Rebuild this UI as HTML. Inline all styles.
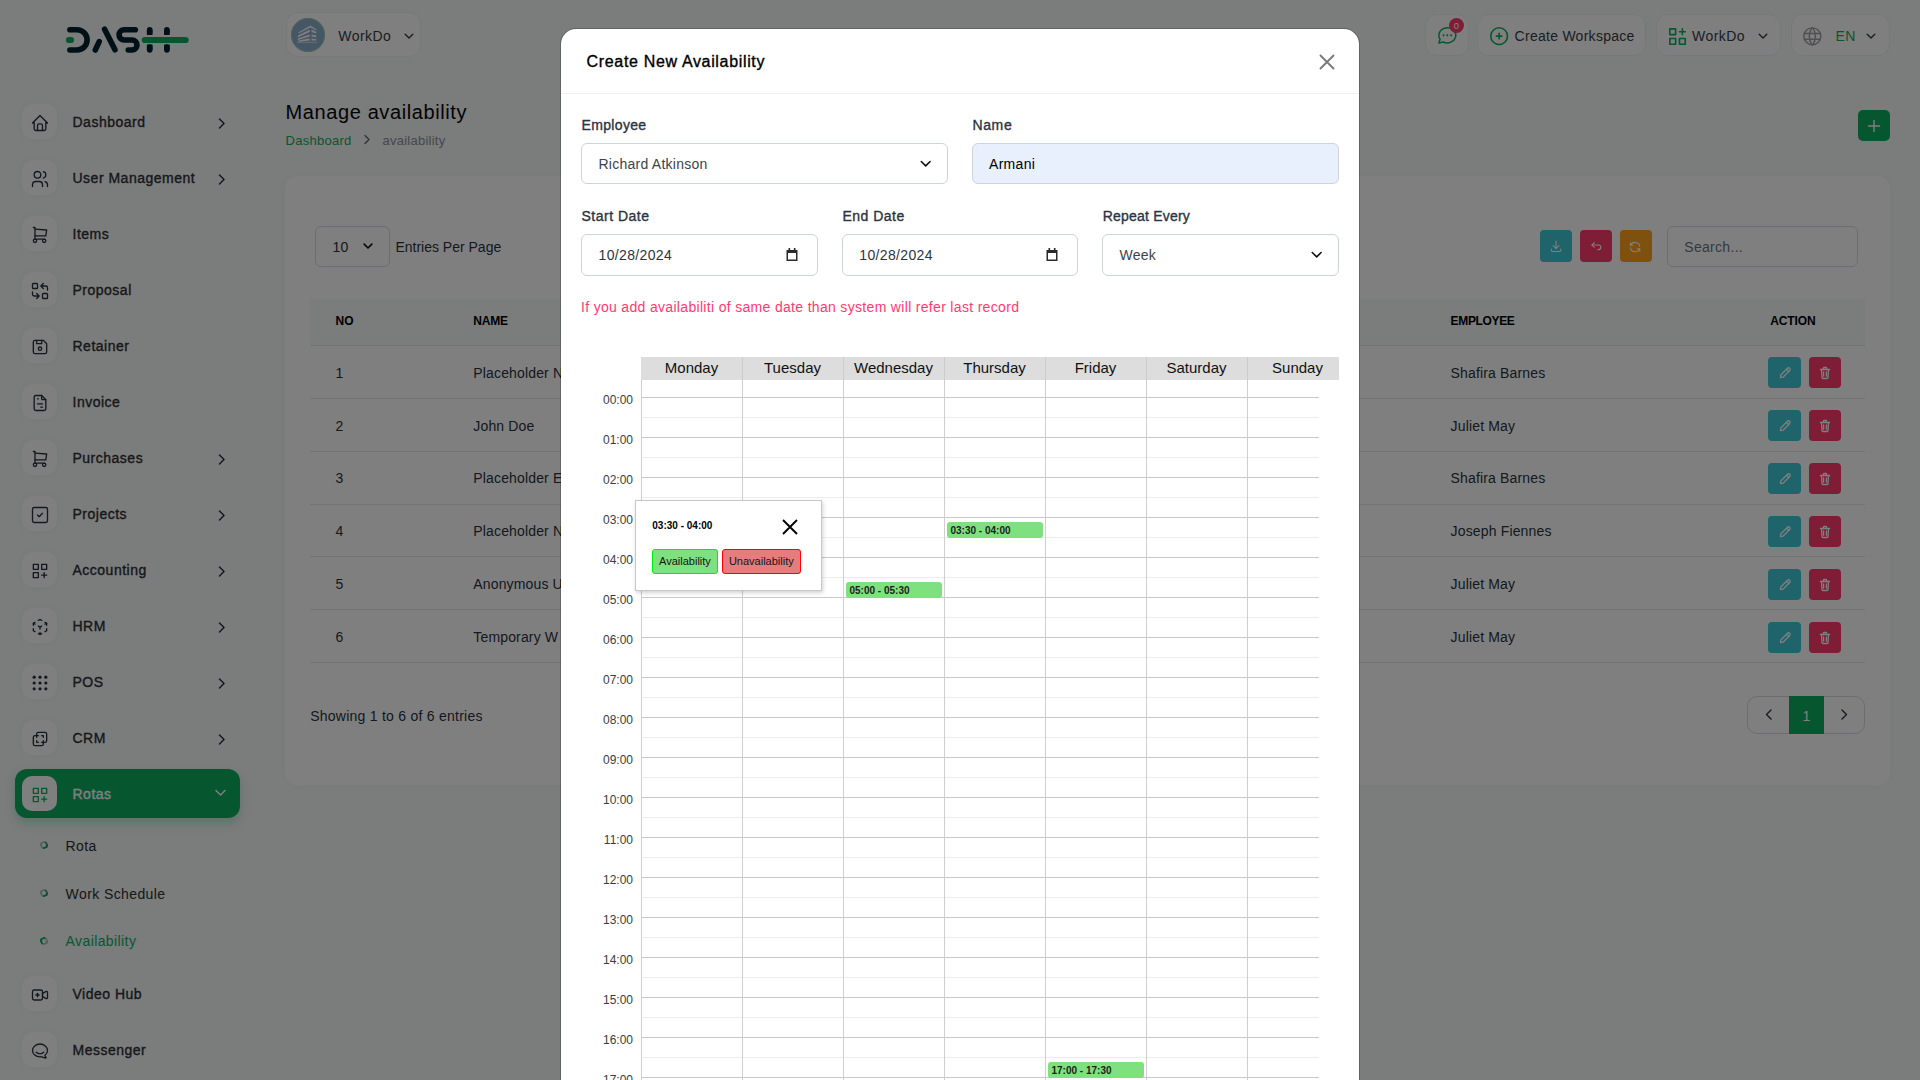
<!DOCTYPE html>
<html><head><meta charset="utf-8"><title>Manage availability</title>
<style>
*{box-sizing:border-box;margin:0;padding:0}
html,body{width:1920px;height:1080px;overflow:hidden}
body{font-family:"Liberation Sans",sans-serif;background:#f6f8f8;position:relative}
.a{position:absolute}
.t{position:absolute;white-space:nowrap;line-height:1}
</style></head><body>
<svg class="a" style="left:60px;top:20px" width="140" height="40" viewBox="0 0 140 40">
  <g stroke="#00202e" stroke-width="5.6" fill="none" stroke-linecap="round">
    <path d="M9.9 9.7 H17 A10.15 10.15 0 0 1 17 30 H9.9"/>
    <path d="M35.3 30 L39.2 21.6"/>
    <path d="M44.6 9.2 L55 29.8"/>
    <path d="M75.3 9.7 H64.2 A5.15 5.15 0 0 0 64.2 20 H72 A5 5 0 0 1 72 30 H68.3"/>
    <path d="M89.7 9.7 V15" stroke-linecap="butt"/><path d="M89.7 9.7 V12"/>
    <path d="M89.7 24.6 V30" stroke-linecap="butt"/><path d="M89.7 27 V30"/>
    <path d="M106.9 9.7 V15" stroke-linecap="butt"/><path d="M106.9 9.7 V12"/>
    <path d="M106.9 24.6 V30" stroke-linecap="butt"/><path d="M106.9 27 V30"/>
  </g>
  <g stroke="#0caf60" stroke-width="6.2" stroke-linecap="round">
    <path d="M9 20 H11"/><path d="M84.8 20 H125.6"/>
  </g>
</svg>
<div class="a" style="left:22px;top:104px;width:35px;height:35px;background:#fff;border-radius:10px;box-shadow:0 0 6px rgba(0,0,0,.04)"></div>
<svg class="a" style="left:29.5px;top:113px;" width="20" height="20" viewBox="0 0 24 24" fill="none" stroke-linecap="round" stroke-linejoin="round"><g stroke="#293240" stroke-width="1.6"><path d="M5 12l-2 0l9 -9l9 9l-2 0"/><path d="M5 12v7a2 2 0 0 0 2 2h10a2 2 0 0 0 2 -2v-7"/><path d="M9 21v-6a2 2 0 0 1 2 -2h2a2 2 0 0 1 2 2v6"/></g></svg>
<div class="t" style="left:72.5px;top:114.65px;font-size:14px;color:#2c3035;font-weight:normal;letter-spacing:0.5px;-webkit-text-stroke:0.35px #2c3035;">Dashboard</div>
<svg class="a" style="left:218px;top:117.5px;" width="8" height="11" viewBox="0 0 8 11" fill="none" stroke-linecap="round" stroke-linejoin="round"><path d="M1.5 1 L6 5.5 L1.5 10" stroke="#293240" stroke-width="1.5"/></svg>
<div class="a" style="left:22px;top:160px;width:35px;height:35px;background:#fff;border-radius:10px;box-shadow:0 0 6px rgba(0,0,0,.04)"></div>
<svg class="a" style="left:29.5px;top:169px;" width="20" height="20" viewBox="0 0 24 24" fill="none" stroke-linecap="round" stroke-linejoin="round"><g stroke="#293240" stroke-width="1.6"><path d="M9 7m-4 0a4 4 0 1 0 8 0a4 4 0 1 0 -8 0"/><path d="M3 21v-2a4 4 0 0 1 4 -4h4a4 4 0 0 1 4 4v2"/><path d="M16 3.13a4 4 0 0 1 0 7.75"/><path d="M21 21v-2a4 4 0 0 0 -3 -3.85"/></g></svg>
<div class="t" style="left:72.5px;top:170.65px;font-size:14px;color:#2c3035;font-weight:normal;letter-spacing:0.5px;-webkit-text-stroke:0.35px #2c3035;">User Management</div>
<svg class="a" style="left:218px;top:173.5px;" width="8" height="11" viewBox="0 0 8 11" fill="none" stroke-linecap="round" stroke-linejoin="round"><path d="M1.5 1 L6 5.5 L1.5 10" stroke="#293240" stroke-width="1.5"/></svg>
<div class="a" style="left:22px;top:216px;width:35px;height:35px;background:#fff;border-radius:10px;box-shadow:0 0 6px rgba(0,0,0,.04)"></div>
<svg class="a" style="left:29.5px;top:225px;" width="20" height="20" viewBox="0 0 24 24" fill="none" stroke-linecap="round" stroke-linejoin="round"><g stroke="#293240" stroke-width="1.6"><path d="M6 19m-2 0a2 2 0 1 0 4 0a2 2 0 1 0 -4 0"/><path d="M17 19m-2 0a2 2 0 1 0 4 0a2 2 0 1 0 -4 0"/><path d="M17 17h-11v-14h-2"/><path d="M6 5l14 1l-1 7h-13"/></g></svg>
<div class="t" style="left:72.5px;top:226.65px;font-size:14px;color:#2c3035;font-weight:normal;letter-spacing:0.5px;-webkit-text-stroke:0.35px #2c3035;">Items</div>
<div class="a" style="left:22px;top:272px;width:35px;height:35px;background:#fff;border-radius:10px;box-shadow:0 0 6px rgba(0,0,0,.04)"></div>
<svg class="a" style="left:29.5px;top:281px;" width="20" height="20" viewBox="0 0 24 24" fill="none" stroke-linecap="round" stroke-linejoin="round"><g stroke="#293240" stroke-width="1.6"><path d="M3 3m0 1a1 1 0 0 1 1 -1h4a1 1 0 0 1 1 1v4a1 1 0 0 1 -1 1h-4a1 1 0 0 1 -1 -1z"/><path d="M15 15m0 1a1 1 0 0 1 1 -1h4a1 1 0 0 1 1 1v4a1 1 0 0 1 -1 1h-4a1 1 0 0 1 -1 -1z"/><path d="M21 11v-3a2 2 0 0 0 -2 -2h-6l3 3m0 -6l-3 3"/><path d="M3 13v3a2 2 0 0 0 2 2h6l-3 -3m0 6l3 -3"/></g></svg>
<div class="t" style="left:72.5px;top:282.65px;font-size:14px;color:#2c3035;font-weight:normal;letter-spacing:0.5px;-webkit-text-stroke:0.35px #2c3035;">Proposal</div>
<div class="a" style="left:22px;top:328px;width:35px;height:35px;background:#fff;border-radius:10px;box-shadow:0 0 6px rgba(0,0,0,.04)"></div>
<svg class="a" style="left:29.5px;top:337px;" width="20" height="20" viewBox="0 0 24 24" fill="none" stroke-linecap="round" stroke-linejoin="round"><g stroke="#293240" stroke-width="1.6"><path d="M6 4h10l4 4v10a2 2 0 0 1 -2 2h-12a2 2 0 0 1 -2 -2v-12a2 2 0 0 1 2 -2"/><path d="M12 14m-2 0a2 2 0 1 0 4 0a2 2 0 1 0 -4 0"/><path d="M14 4l0 4l-6 0l0 -4"/></g></svg>
<div class="t" style="left:72.5px;top:338.65px;font-size:14px;color:#2c3035;font-weight:normal;letter-spacing:0.5px;-webkit-text-stroke:0.35px #2c3035;">Retainer</div>
<div class="a" style="left:22px;top:384px;width:35px;height:35px;background:#fff;border-radius:10px;box-shadow:0 0 6px rgba(0,0,0,.04)"></div>
<svg class="a" style="left:29.5px;top:393px;" width="20" height="20" viewBox="0 0 24 24" fill="none" stroke-linecap="round" stroke-linejoin="round"><g stroke="#293240" stroke-width="1.6"><path d="M14 3v4a1 1 0 0 0 1 1h4"/><path d="M17 21h-10a2 2 0 0 1 -2 -2v-14a2 2 0 0 1 2 -2h7l5 5v11a2 2 0 0 1 -2 2z"/><path d="M9 7l1 0"/><path d="M9 13l6 0"/><path d="M13 17l2 0"/></g></svg>
<div class="t" style="left:72.5px;top:394.65px;font-size:14px;color:#2c3035;font-weight:normal;letter-spacing:0.5px;-webkit-text-stroke:0.35px #2c3035;">Invoice</div>
<div class="a" style="left:22px;top:440px;width:35px;height:35px;background:#fff;border-radius:10px;box-shadow:0 0 6px rgba(0,0,0,.04)"></div>
<svg class="a" style="left:29.5px;top:449px;" width="20" height="20" viewBox="0 0 24 24" fill="none" stroke-linecap="round" stroke-linejoin="round"><g stroke="#293240" stroke-width="1.6"><path d="M6 19m-2 0a2 2 0 1 0 4 0a2 2 0 1 0 -4 0"/><path d="M17 19m-2 0a2 2 0 1 0 4 0a2 2 0 1 0 -4 0"/><path d="M17 17h-11v-14h-2"/><path d="M6 5l14 1l-1 7h-13"/></g></svg>
<div class="t" style="left:72.5px;top:450.65px;font-size:14px;color:#2c3035;font-weight:normal;letter-spacing:0.5px;-webkit-text-stroke:0.35px #2c3035;">Purchases</div>
<svg class="a" style="left:218px;top:453.5px;" width="8" height="11" viewBox="0 0 8 11" fill="none" stroke-linecap="round" stroke-linejoin="round"><path d="M1.5 1 L6 5.5 L1.5 10" stroke="#293240" stroke-width="1.5"/></svg>
<div class="a" style="left:22px;top:496px;width:35px;height:35px;background:#fff;border-radius:10px;box-shadow:0 0 6px rgba(0,0,0,.04)"></div>
<svg class="a" style="left:29.5px;top:505px;" width="20" height="20" viewBox="0 0 24 24" fill="none" stroke-linecap="round" stroke-linejoin="round"><g stroke="#293240" stroke-width="1.6"><path d="M3 3m0 2a2 2 0 0 1 2 -2h14a2 2 0 0 1 2 2v14a2 2 0 0 1 -2 2h-14a2 2 0 0 1 -2 -2z"/><path d="M9 12l2 2l4 -4"/></g></svg>
<div class="t" style="left:72.5px;top:506.65px;font-size:14px;color:#2c3035;font-weight:normal;letter-spacing:0.5px;-webkit-text-stroke:0.35px #2c3035;">Projects</div>
<svg class="a" style="left:218px;top:509.5px;" width="8" height="11" viewBox="0 0 8 11" fill="none" stroke-linecap="round" stroke-linejoin="round"><path d="M1.5 1 L6 5.5 L1.5 10" stroke="#293240" stroke-width="1.5"/></svg>
<div class="a" style="left:22px;top:552px;width:35px;height:35px;background:#fff;border-radius:10px;box-shadow:0 0 6px rgba(0,0,0,.04)"></div>
<svg class="a" style="left:29.5px;top:561px;" width="20" height="20" viewBox="0 0 24 24" fill="none" stroke-linecap="round" stroke-linejoin="round"><g stroke="#293240" stroke-width="1.6"><path d="M4 4h6v6h-6z"/><path d="M14 4h6v6h-6z"/><path d="M4 14h6v6h-6z"/><path d="M14 17h6m-3 -3v6"/></g></svg>
<div class="t" style="left:72.5px;top:562.65px;font-size:14px;color:#2c3035;font-weight:normal;letter-spacing:0.5px;-webkit-text-stroke:0.35px #2c3035;">Accounting</div>
<svg class="a" style="left:218px;top:565.5px;" width="8" height="11" viewBox="0 0 8 11" fill="none" stroke-linecap="round" stroke-linejoin="round"><path d="M1.5 1 L6 5.5 L1.5 10" stroke="#293240" stroke-width="1.5"/></svg>
<div class="a" style="left:22px;top:608px;width:35px;height:35px;background:#fff;border-radius:10px;box-shadow:0 0 6px rgba(0,0,0,.04)"></div>
<svg class="a" style="left:29.5px;top:617px;" width="20" height="20" viewBox="0 0 24 24" fill="none" stroke-linecap="round" stroke-linejoin="round"><g stroke="#293240" stroke-width="1.6"><path d="M6 17.6l-2 -1.1v-2.5"/><path d="M4 10v-2.5l2 -1.1"/><path d="M10 4.1l2 -1.1l2 1.1"/><path d="M18 6.4l2 1.1v2.5"/><path d="M20 14v2.5l-2 1.12"/><path d="M14 19.9l-2 1.1l-2 -1.1"/><path d="M12 12l2 -1.1"/><path d="M18 8.6l2 -1.1"/><path d="M12 12l0 2.5"/><path d="M12 18.5l0 2.5"/><path d="M12 12l-2 -1.12"/><path d="M6 8.6l-2 -1.1"/></g></svg>
<div class="t" style="left:72.5px;top:618.65px;font-size:14px;color:#2c3035;font-weight:normal;letter-spacing:0.5px;-webkit-text-stroke:0.35px #2c3035;">HRM</div>
<svg class="a" style="left:218px;top:621.5px;" width="8" height="11" viewBox="0 0 8 11" fill="none" stroke-linecap="round" stroke-linejoin="round"><path d="M1.5 1 L6 5.5 L1.5 10" stroke="#293240" stroke-width="1.5"/></svg>
<div class="a" style="left:22px;top:664px;width:35px;height:35px;background:#fff;border-radius:10px;box-shadow:0 0 6px rgba(0,0,0,.04)"></div>
<svg class="a" style="left:29.5px;top:673px;" width="20" height="20" viewBox="0 0 24 24" fill="none" stroke-linecap="round" stroke-linejoin="round"><g fill="#293240" stroke="none"><circle cx="5" cy="5" r="1.9"/><circle cx="5" cy="12" r="1.9"/><circle cx="5" cy="19" r="1.9"/><circle cx="12" cy="5" r="1.9"/><circle cx="12" cy="12" r="1.9"/><circle cx="12" cy="19" r="1.9"/><circle cx="19" cy="5" r="1.9"/><circle cx="19" cy="12" r="1.9"/><circle cx="19" cy="19" r="1.9"/></g></svg>
<div class="t" style="left:72.5px;top:674.65px;font-size:14px;color:#2c3035;font-weight:normal;letter-spacing:0.5px;-webkit-text-stroke:0.35px #2c3035;">POS</div>
<svg class="a" style="left:218px;top:677.5px;" width="8" height="11" viewBox="0 0 8 11" fill="none" stroke-linecap="round" stroke-linejoin="round"><path d="M1.5 1 L6 5.5 L1.5 10" stroke="#293240" stroke-width="1.5"/></svg>
<div class="a" style="left:22px;top:720px;width:35px;height:35px;background:#fff;border-radius:10px;box-shadow:0 0 6px rgba(0,0,0,.04)"></div>
<svg class="a" style="left:29.5px;top:729px;" width="20" height="20" viewBox="0 0 24 24" fill="none" stroke-linecap="round" stroke-linejoin="round"><g stroke="#293240" stroke-width="1.6"><path d="M16 16v2a2 2 0 0 1 -2 2h-8a2 2 0 0 1 -2 -2v-8a2 2 0 0 1 2 -2h2v-2a2 2 0 0 1 2 -2h8a2 2 0 0 1 2 2v8a2 2 0 0 1 -2 2h-2"/><path d="M10 8l-2 0l0 2"/><path d="M8 14l0 2l2 0"/><path d="M14 8l2 0l0 2"/><path d="M16 14l0 2l-2 0"/></g></svg>
<div class="t" style="left:72.5px;top:730.65px;font-size:14px;color:#2c3035;font-weight:normal;letter-spacing:0.5px;-webkit-text-stroke:0.35px #2c3035;">CRM</div>
<svg class="a" style="left:218px;top:733.5px;" width="8" height="11" viewBox="0 0 8 11" fill="none" stroke-linecap="round" stroke-linejoin="round"><path d="M1.5 1 L6 5.5 L1.5 10" stroke="#293240" stroke-width="1.5"/></svg>
<div class="a" style="left:15px;top:769px;width:225px;height:49px;background:#0caf60;border-radius:12px;box-shadow:0 5px 10px rgba(12,175,96,.25)"></div>
<div class="a" style="left:22px;top:776px;width:35px;height:35px;background:#fff;border-radius:10px"></div>
<svg class="a" style="left:29.5px;top:785px;" width="20" height="20" viewBox="0 0 24 24" fill="none" stroke-linecap="round" stroke-linejoin="round"><g stroke="#0caf60" stroke-width="1.6"><path d="M4 4h6v6h-6z"/><path d="M14 4h6v6h-6z"/><path d="M4 14h6v6h-6z"/><path d="M14 17h6m-3 -3v6"/></g></svg>
<div class="t" style="left:72.5px;top:787.45px;font-size:14px;color:#fff;font-weight:normal;letter-spacing:0.5px;-webkit-text-stroke:0.35px #fff;">Rotas</div>
<svg class="a" style="left:215px;top:789px;" width="11" height="8" viewBox="0 0 11 8" fill="none" stroke-linecap="round" stroke-linejoin="round"><path d="M1 1.5 L5.5 6 L10 1.5" stroke="#fff" stroke-width="1.5"/></svg>
<div class="a" style="left:40px;top:841.2px;width:8px;height:8px;border-radius:50%;border:2px solid #b8bcc2;border-bottom-color:#0caf60;border-right-color:#0caf60;transform:rotate(-20deg)"></div>
<div class="t" style="left:65.6px;top:838.85px;font-size:14px;color:#2c3035;font-weight:normal;letter-spacing:0.4px;">Rota</div>
<div class="a" style="left:40px;top:889.2px;width:8px;height:8px;border-radius:50%;border:2px solid #b8bcc2;border-bottom-color:#0caf60;border-right-color:#0caf60;transform:rotate(-20deg)"></div>
<div class="t" style="left:65.6px;top:886.85px;font-size:14px;color:#2c3035;font-weight:normal;letter-spacing:0.4px;">Work Schedule</div>
<div class="a" style="left:40px;top:936.5px;width:8px;height:8px;border-radius:50%;border:2px solid #b8bcc2;border-bottom-color:#0caf60;border-right-color:#0caf60;transform:rotate(160deg)"></div>
<div class="t" style="left:65.6px;top:934.15px;font-size:14px;color:#0caf60;font-weight:normal;letter-spacing:0.4px;">Availability</div>
<div class="a" style="left:22px;top:976px;width:35px;height:35px;background:#fff;border-radius:10px;box-shadow:0 0 6px rgba(0,0,0,.04)"></div>
<svg class="a" style="left:29.5px;top:985px;" width="20" height="20" viewBox="0 0 24 24" fill="none" stroke-linecap="round" stroke-linejoin="round"><g stroke="#293240" stroke-width="1.6"><path d="M15 10l4.553 -2.276a1 1 0 0 1 1.447 .894v6.764a1 1 0 0 1 -1.447 .894l-4.553 -2.276v-4z"/><path d="M3 6m0 2a2 2 0 0 1 2 -2h8a2 2 0 0 1 2 2v8a2 2 0 0 1 -2 2h-8a2 2 0 0 1 -2 -2z"/><path d="M7 12l4 0"/><path d="M9 10l0 4"/></g></svg>
<div class="t" style="left:72.5px;top:986.65px;font-size:14px;color:#2c3035;font-weight:normal;letter-spacing:0.5px;-webkit-text-stroke:0.35px #2c3035;">Video Hub</div>
<div class="a" style="left:22px;top:1032px;width:35px;height:35px;background:#fff;border-radius:10px;box-shadow:0 0 6px rgba(0,0,0,.04)"></div>
<svg class="a" style="left:29.5px;top:1041px;" width="20" height="20" viewBox="0 0 24 24" fill="none" stroke-linecap="round" stroke-linejoin="round"><g stroke="#293240" stroke-width="1.6"><path d="M17.802 17.292s.077 -.055 .2 -.149c1.843 -1.425 3 -3.49 3 -5.789c0 -4.286 -4.03 -7.764 -9 -7.764c-4.97 0 -9 3.478 -9 7.764c0 4.288 4.03 7.646 9 7.646c.424 0 1.12 -.028 2.088 -.084c1.262 .82 3.104 1.493 4.716 1.493c.499 0 .734 -.41 .414 -.828c-.486 -.596 -1.156 -1.551 -1.416 -2.29z"/><path d="M7.5 13.5c2.5 2.5 6.5 2.5 9 0"/></g></svg>
<div class="t" style="left:72.5px;top:1042.65px;font-size:14px;color:#2c3035;font-weight:normal;letter-spacing:0.5px;-webkit-text-stroke:0.35px #2c3035;">Messenger</div>
<div class="a" style="left:286px;top:12px;width:135px;height:45px;background:#fff;border:1px solid #eef0f2;border-radius:12px"></div>
<div class="a" style="left:291px;top:18px;width:34px;height:34px;background:#8aaccb;border-radius:50%;box-shadow:inset 0 0 0 1px rgba(160,210,170,.7)"></div>
<svg class="a" style="left:286px;top:14px;" width="44" height="42" viewBox="286 14 44 42" fill="none" stroke-linecap="round" stroke-linejoin="round"><g fill="#fff" stroke="none"><path d="M298.6 32.2 L310.5 25.6 L316.3 29.2 L316.3 30.6 L310.5 27.4 L298.6 33.6 Z" opacity=".9"/><path d="M297.9 35.4 L309.6 29.8 L309.6 32 L297.9 37.2 Z"/><path d="M297.9 38.4 L309.6 34.4 L309.6 36.4 L297.9 40 Z"/><path d="M298.4 40.6 L309.6 38.6 L309.6 40.4 L298.4 41.8 Z"/><path d="M311.5 29.8 L316.3 31.8 L316.3 33.6 L311.5 32 Z"/><path d="M311.5 34.4 L316.3 35.6 L316.3 37.2 L311.5 36.4 Z"/><path d="M311.5 38.6 L316.3 39.2 L316.3 40.6 L311.5 40.4 Z"/><rect x="297" y="41.6" width="20" height="1.6" opacity=".45"/></g></svg>
<div class="t" style="left:338.3px;top:29.15px;font-size:14px;color:#363c44;font-weight:normal;letter-spacing:0.45px;">WorkDo</div>
<svg class="a" style="left:404px;top:32.5px;" width="10" height="7" viewBox="0 0 10 7" fill="none" stroke-linecap="round" stroke-linejoin="round"><path d="M1.2 1.2 L5 5 L8.8 1.2" stroke="#293240" stroke-width="1.3"/></svg>
<div class="a" style="left:1425px;top:14px;width:44px;height:42px;background:#fff;border:1px solid #eef0f2;border-radius:12px"></div>
<svg class="a" style="left:1435.9px;top:24px;" width="22.7" height="22.7" viewBox="0 0 24 24" fill="none" stroke-linecap="round" stroke-linejoin="round"><g stroke="#0caf60" stroke-width="1.6"><path d="M3 20l1.3 -3.9c-2.324 -3.437 -1.426 -7.872 2.1 -10.374c3.526 -2.501 8.59 -2.296 11.845 .48c3.255 2.777 3.695 7.266 1.029 10.501c-2.666 3.235 -7.615 4.215 -11.574 2.293l-4.7 1"/><path d="M12 12l0 .01M8 12l0 .01M16 12l0 .01" stroke-width="2.2"/></g></svg>
<div class="a" style="left:1449px;top:18px;width:15px;height:15px;background:#ff3a6e;border-radius:50%"></div>
<div class="t" style="left:1449.00px;width:15px;text-align:center;top:20.66px;font-size:9.5px;color:#fff;font-weight:normal;letter-spacing:0px;">0</div>
<div class="a" style="left:1477px;top:14px;width:169px;height:42px;background:#fff;border:1px solid #eef0f2;border-radius:12px"></div>
<svg class="a" style="left:1488.2px;top:25.1px;" width="22.3" height="22.3" viewBox="0 0 24 24" fill="none" stroke-linecap="round" stroke-linejoin="round"><g stroke="#0caf60" stroke-width="1.7"><path d="M3 12a9 9 0 1 0 18 0a9 9 0 0 0 -18 0"/><path d="M9 12h6"/><path d="M12 9v6"/></g></svg>
<div class="t" style="left:1514.6px;top:29.15px;font-size:14px;color:#363c44;font-weight:normal;letter-spacing:0.27px;">Create Workspace</div>
<div class="a" style="left:1655.5px;top:14px;width:125.5px;height:42px;background:#fff;border:1px solid #eef0f2;border-radius:12px"></div>
<svg class="a" style="left:1665.65px;top:24.55px;" width="23.1" height="23.1" viewBox="0 0 24 24" fill="none" stroke-linecap="round" stroke-linejoin="round"><g stroke="#0caf60" stroke-width="1.7"><path d="M4 4h6v6h-6z"/><path d="M4 14h6v6h-6z"/><path d="M14 14h6v6h-6z"/><path d="M14 7h6m-3 -3v6"/></g></svg>
<div class="t" style="left:1692px;top:29.15px;font-size:14px;color:#363c44;font-weight:normal;letter-spacing:0.45px;">WorkDo</div>
<svg class="a" style="left:1758px;top:32.5px;" width="10" height="7" viewBox="0 0 10 7" fill="none" stroke-linecap="round" stroke-linejoin="round"><path d="M1.2 1.2 L5 5 L8.8 1.2" stroke="#293240" stroke-width="1.3"/></svg>
<div class="a" style="left:1790.5px;top:14px;width:99px;height:42px;background:#fff;border:1px solid #eef0f2;border-radius:12px"></div>
<svg class="a" style="left:1800.8px;top:25px;" width="22.7" height="22.7" viewBox="0 0 24 24" fill="none" stroke-linecap="round" stroke-linejoin="round"><g stroke="#9da1a6" stroke-width="1.5"><path d="M3 12a9 9 0 1 0 18 0a9 9 0 0 0 -18 0"/><path d="M3.6 9h16.8"/><path d="M3.6 15h16.8"/><path d="M11.5 3a17 17 0 0 0 0 18"/><path d="M12.5 3a17 17 0 0 1 0 18"/></g></svg>
<div class="t" style="left:1835.5px;top:29.15px;font-size:14px;color:#0caf60;font-weight:normal;letter-spacing:0.5px;">EN</div>
<svg class="a" style="left:1866px;top:32.5px;" width="10" height="7" viewBox="0 0 10 7" fill="none" stroke-linecap="round" stroke-linejoin="round"><path d="M1.2 1.2 L5 5 L8.8 1.2" stroke="#293240" stroke-width="1.3"/></svg>
<div class="t" style="left:285.6px;top:102.07px;font-size:20px;color:#060606;font-weight:normal;letter-spacing:0.6px;">Manage availability</div>
<div class="t" style="left:285.6px;top:133.60px;font-size:13px;color:#0caf60;font-weight:normal;letter-spacing:0.27px;">Dashboard</div>
<svg class="a" style="left:363px;top:134px;" width="8" height="11" viewBox="0 0 8 11" fill="none" stroke-linecap="round" stroke-linejoin="round"><path d="M2 1.5 L6 5.5 L2 9.5" stroke="#5d6773" stroke-width="1.3"/></svg>
<div class="t" style="left:382.5px;top:133.60px;font-size:13px;color:#8a9099;font-weight:normal;letter-spacing:0.25px;">availability</div>
<div class="a" style="left:1858px;top:110px;width:32px;height:31px;background:#0caf60;border-radius:5px"></div>
<svg class="a" style="left:1866px;top:117.5px;" width="16" height="16" viewBox="0 0 16 16" fill="none" stroke-linecap="round" stroke-linejoin="round"><path d="M8 2.5 V13.5 M2.5 8 H13.5" stroke="#fff" stroke-width="1.4"/></svg>
<div class="a" style="left:285px;top:176px;width:1605px;height:609px;background:#fff;border-radius:12px;box-shadow:0 0 10px rgba(0,0,0,.02)"></div>
<div class="a" style="left:315px;top:226px;width:75px;height:41px;border:1px solid #d7dbe0;border-radius:6px"></div>
<div class="t" style="left:332.5px;top:239.95px;font-size:14px;color:#293240;font-weight:normal;letter-spacing:0.3px;">10</div>
<svg class="a" style="left:363px;top:242.5px;" width="10" height="7" viewBox="0 0 10 7" fill="none" stroke-linecap="round" stroke-linejoin="round"><path d="M1.2 1.2 L5 5 L8.8 1.2" stroke="#111" stroke-width="1.7"/></svg>
<div class="t" style="left:395.4px;top:240.15px;font-size:14px;color:#293240;font-weight:normal;letter-spacing:0px;">Entries Per Page</div>
<div class="a" style="left:1540px;top:230px;width:32px;height:32px;background:#3ec9d6;border-radius:4px"></div><svg class="a" style="left:1548.7px;top:238.8px;" width="14.2" height="14.2" viewBox="0 0 24 24" fill="none" stroke-linecap="round" stroke-linejoin="round"><g stroke="#fff" stroke-width="1.8"><path d="M4 17v2a2 2 0 0 0 2 2h12a2 2 0 0 0 2 -2v-2"/><path d="M7 11l5 5l5 -5"/><path d="M12 4l0 12"/></g></svg>
<div class="a" style="left:1580px;top:230px;width:32px;height:32px;background:#ff3a6e;border-radius:4px"></div><svg class="a" style="left:1588.8px;top:239.2px;" width="14.2" height="14.2" viewBox="0 0 24 24" fill="none" stroke-linecap="round" stroke-linejoin="round"><g stroke="#fff" stroke-width="1.8"><path d="M9 14l-4 -4l4 -4"/><path d="M5 10h11a4 4 0 1 1 0 8h-1"/></g></svg>
<div class="a" style="left:1620px;top:230px;width:32px;height:32px;background:#ffa21d;border-radius:4px"></div><svg class="a" style="left:1628.1px;top:239.9px;" width="14.2" height="14.2" viewBox="0 0 24 24" fill="none" stroke-linecap="round" stroke-linejoin="round"><g stroke="#fff" stroke-width="1.8"><path d="M20 11a8.1 8.1 0 0 0 -15.5 -2m-.5 -4v4h4"/><path d="M4 13a8.1 8.1 0 0 0 15.5 2m.5 4v-4h-4"/></g></svg>
<div class="a" style="left:1667px;top:226px;width:191px;height:41px;border:1px solid #d7dbe0;border-radius:6px"></div>
<div class="t" style="left:1684.3px;top:240.15px;font-size:14px;color:#6c757d;font-weight:normal;letter-spacing:0.3px;">Search...</div>
<div class="a" style="left:310px;top:298px;width:1555px;height:48px;background:#f6f8f8;border-bottom:1px solid #e3e6e9"></div>
<div class="t" style="left:335.5px;top:314.84px;font-size:12px;color:#000;font-weight:bold;letter-spacing:0px;">NO</div>
<div class="t" style="left:473.3px;top:314.84px;font-size:12px;color:#000;font-weight:bold;letter-spacing:-0.2px;">NAME</div>
<div class="t" style="left:1450.6px;top:314.84px;font-size:12px;color:#000;font-weight:bold;letter-spacing:-0.35px;">EMPLOYEE</div>
<div class="t" style="left:1770.3px;top:314.84px;font-size:12px;color:#000;font-weight:bold;letter-spacing:-0.15px;">ACTION</div>
<div class="a" style="left:310px;top:398px;width:1555px;height:1px;background:#e3e6e9"></div>
<div class="t" style="left:335.5px;top:365.75px;font-size:14px;color:#293240;font-weight:normal;letter-spacing:0px;">1</div>
<div class="t" style="left:473.3px;top:365.75px;font-size:14px;color:#293240;font-weight:normal;letter-spacing:0.15px;">Placeholder N</div>
<div class="t" style="left:1450.6px;top:365.75px;font-size:14px;color:#293240;font-weight:normal;letter-spacing:0.15px;">Shafira Barnes</div>
<div class="a" style="left:1768px;top:357px;width:33px;height:31px;background:#3ec9d6;border-radius:4px"></div>
<svg class="a" style="left:1776.5px;top:364.5px;" width="16" height="16" viewBox="0 0 16 16" fill="none" stroke-linecap="round" stroke-linejoin="round"><g stroke="#fff" stroke-width="1.3"><path d="M3.5 12.5 L3.8 10 L10.5 3.3 A1.3 1.3 0 0 1 12.7 5.5 L6 12.2 Z"/><path d="M9.5 4.3 L11.7 6.5"/></g></svg>
<div class="a" style="left:1809px;top:357px;width:32px;height:31px;background:#ff3a6e;border-radius:4px"></div>
<svg class="a" style="left:1817px;top:364.5px;" width="16" height="16" viewBox="0 0 16 16" fill="none" stroke-linecap="round" stroke-linejoin="round"><g stroke="#fff" stroke-width="1.3"><path d="M3.4 4.5 H12.6"/><path d="M4.5 4.5 L5 12.5 A1 1 0 0 0 6 13.5 H10 A1 1 0 0 0 11 12.5 L11.5 4.5"/><path d="M6.5 4.5 V3 A.5 .5 0 0 1 7 2.5 H9 A.5 .5 0 0 1 9.5 3 V4.5"/><path d="M6.6 7 V11.2 M9.4 7 V11.2"/></g></svg>
<div class="a" style="left:310px;top:451px;width:1555px;height:1px;background:#e3e6e9"></div>
<div class="t" style="left:335.5px;top:418.55px;font-size:14px;color:#293240;font-weight:normal;letter-spacing:0px;">2</div>
<div class="t" style="left:473.3px;top:418.55px;font-size:14px;color:#293240;font-weight:normal;letter-spacing:0.15px;">John Doe</div>
<div class="t" style="left:1450.6px;top:418.55px;font-size:14px;color:#293240;font-weight:normal;letter-spacing:0.15px;">Juliet May</div>
<div class="a" style="left:1768px;top:410px;width:33px;height:31px;background:#3ec9d6;border-radius:4px"></div>
<svg class="a" style="left:1776.5px;top:417.5px;" width="16" height="16" viewBox="0 0 16 16" fill="none" stroke-linecap="round" stroke-linejoin="round"><g stroke="#fff" stroke-width="1.3"><path d="M3.5 12.5 L3.8 10 L10.5 3.3 A1.3 1.3 0 0 1 12.7 5.5 L6 12.2 Z"/><path d="M9.5 4.3 L11.7 6.5"/></g></svg>
<div class="a" style="left:1809px;top:410px;width:32px;height:31px;background:#ff3a6e;border-radius:4px"></div>
<svg class="a" style="left:1817px;top:417.5px;" width="16" height="16" viewBox="0 0 16 16" fill="none" stroke-linecap="round" stroke-linejoin="round"><g stroke="#fff" stroke-width="1.3"><path d="M3.4 4.5 H12.6"/><path d="M4.5 4.5 L5 12.5 A1 1 0 0 0 6 13.5 H10 A1 1 0 0 0 11 12.5 L11.5 4.5"/><path d="M6.5 4.5 V3 A.5 .5 0 0 1 7 2.5 H9 A.5 .5 0 0 1 9.5 3 V4.5"/><path d="M6.6 7 V11.2 M9.4 7 V11.2"/></g></svg>
<div class="a" style="left:310px;top:504px;width:1555px;height:1px;background:#e3e6e9"></div>
<div class="t" style="left:335.5px;top:471.35px;font-size:14px;color:#293240;font-weight:normal;letter-spacing:0px;">3</div>
<div class="t" style="left:473.3px;top:471.35px;font-size:14px;color:#293240;font-weight:normal;letter-spacing:0.15px;">Placeholder E</div>
<div class="t" style="left:1450.6px;top:471.35px;font-size:14px;color:#293240;font-weight:normal;letter-spacing:0.15px;">Shafira Barnes</div>
<div class="a" style="left:1768px;top:463px;width:33px;height:31px;background:#3ec9d6;border-radius:4px"></div>
<svg class="a" style="left:1776.5px;top:470.5px;" width="16" height="16" viewBox="0 0 16 16" fill="none" stroke-linecap="round" stroke-linejoin="round"><g stroke="#fff" stroke-width="1.3"><path d="M3.5 12.5 L3.8 10 L10.5 3.3 A1.3 1.3 0 0 1 12.7 5.5 L6 12.2 Z"/><path d="M9.5 4.3 L11.7 6.5"/></g></svg>
<div class="a" style="left:1809px;top:463px;width:32px;height:31px;background:#ff3a6e;border-radius:4px"></div>
<svg class="a" style="left:1817px;top:470.5px;" width="16" height="16" viewBox="0 0 16 16" fill="none" stroke-linecap="round" stroke-linejoin="round"><g stroke="#fff" stroke-width="1.3"><path d="M3.4 4.5 H12.6"/><path d="M4.5 4.5 L5 12.5 A1 1 0 0 0 6 13.5 H10 A1 1 0 0 0 11 12.5 L11.5 4.5"/><path d="M6.5 4.5 V3 A.5 .5 0 0 1 7 2.5 H9 A.5 .5 0 0 1 9.5 3 V4.5"/><path d="M6.6 7 V11.2 M9.4 7 V11.2"/></g></svg>
<div class="a" style="left:310px;top:556px;width:1555px;height:1px;background:#e3e6e9"></div>
<div class="t" style="left:335.5px;top:524.15px;font-size:14px;color:#293240;font-weight:normal;letter-spacing:0px;">4</div>
<div class="t" style="left:473.3px;top:524.15px;font-size:14px;color:#293240;font-weight:normal;letter-spacing:0.15px;">Placeholder N</div>
<div class="t" style="left:1450.6px;top:524.15px;font-size:14px;color:#293240;font-weight:normal;letter-spacing:0.15px;">Joseph Fiennes</div>
<div class="a" style="left:1768px;top:516px;width:33px;height:31px;background:#3ec9d6;border-radius:4px"></div>
<svg class="a" style="left:1776.5px;top:523.5px;" width="16" height="16" viewBox="0 0 16 16" fill="none" stroke-linecap="round" stroke-linejoin="round"><g stroke="#fff" stroke-width="1.3"><path d="M3.5 12.5 L3.8 10 L10.5 3.3 A1.3 1.3 0 0 1 12.7 5.5 L6 12.2 Z"/><path d="M9.5 4.3 L11.7 6.5"/></g></svg>
<div class="a" style="left:1809px;top:516px;width:32px;height:31px;background:#ff3a6e;border-radius:4px"></div>
<svg class="a" style="left:1817px;top:523.5px;" width="16" height="16" viewBox="0 0 16 16" fill="none" stroke-linecap="round" stroke-linejoin="round"><g stroke="#fff" stroke-width="1.3"><path d="M3.4 4.5 H12.6"/><path d="M4.5 4.5 L5 12.5 A1 1 0 0 0 6 13.5 H10 A1 1 0 0 0 11 12.5 L11.5 4.5"/><path d="M6.5 4.5 V3 A.5 .5 0 0 1 7 2.5 H9 A.5 .5 0 0 1 9.5 3 V4.5"/><path d="M6.6 7 V11.2 M9.4 7 V11.2"/></g></svg>
<div class="a" style="left:310px;top:609px;width:1555px;height:1px;background:#e3e6e9"></div>
<div class="t" style="left:335.5px;top:576.95px;font-size:14px;color:#293240;font-weight:normal;letter-spacing:0px;">5</div>
<div class="t" style="left:473.3px;top:576.95px;font-size:14px;color:#293240;font-weight:normal;letter-spacing:0.15px;">Anonymous U</div>
<div class="t" style="left:1450.6px;top:576.95px;font-size:14px;color:#293240;font-weight:normal;letter-spacing:0.15px;">Juliet May</div>
<div class="a" style="left:1768px;top:569px;width:33px;height:31px;background:#3ec9d6;border-radius:4px"></div>
<svg class="a" style="left:1776.5px;top:576.5px;" width="16" height="16" viewBox="0 0 16 16" fill="none" stroke-linecap="round" stroke-linejoin="round"><g stroke="#fff" stroke-width="1.3"><path d="M3.5 12.5 L3.8 10 L10.5 3.3 A1.3 1.3 0 0 1 12.7 5.5 L6 12.2 Z"/><path d="M9.5 4.3 L11.7 6.5"/></g></svg>
<div class="a" style="left:1809px;top:569px;width:32px;height:31px;background:#ff3a6e;border-radius:4px"></div>
<svg class="a" style="left:1817px;top:576.5px;" width="16" height="16" viewBox="0 0 16 16" fill="none" stroke-linecap="round" stroke-linejoin="round"><g stroke="#fff" stroke-width="1.3"><path d="M3.4 4.5 H12.6"/><path d="M4.5 4.5 L5 12.5 A1 1 0 0 0 6 13.5 H10 A1 1 0 0 0 11 12.5 L11.5 4.5"/><path d="M6.5 4.5 V3 A.5 .5 0 0 1 7 2.5 H9 A.5 .5 0 0 1 9.5 3 V4.5"/><path d="M6.6 7 V11.2 M9.4 7 V11.2"/></g></svg>
<div class="a" style="left:310px;top:662px;width:1555px;height:1px;background:#e3e6e9"></div>
<div class="t" style="left:335.5px;top:629.75px;font-size:14px;color:#293240;font-weight:normal;letter-spacing:0px;">6</div>
<div class="t" style="left:473.3px;top:629.75px;font-size:14px;color:#293240;font-weight:normal;letter-spacing:0.15px;">Temporary W</div>
<div class="t" style="left:1450.6px;top:629.75px;font-size:14px;color:#293240;font-weight:normal;letter-spacing:0.15px;">Juliet May</div>
<div class="a" style="left:1768px;top:622px;width:33px;height:31px;background:#3ec9d6;border-radius:4px"></div>
<svg class="a" style="left:1776.5px;top:629.5px;" width="16" height="16" viewBox="0 0 16 16" fill="none" stroke-linecap="round" stroke-linejoin="round"><g stroke="#fff" stroke-width="1.3"><path d="M3.5 12.5 L3.8 10 L10.5 3.3 A1.3 1.3 0 0 1 12.7 5.5 L6 12.2 Z"/><path d="M9.5 4.3 L11.7 6.5"/></g></svg>
<div class="a" style="left:1809px;top:622px;width:32px;height:31px;background:#ff3a6e;border-radius:4px"></div>
<svg class="a" style="left:1817px;top:629.5px;" width="16" height="16" viewBox="0 0 16 16" fill="none" stroke-linecap="round" stroke-linejoin="round"><g stroke="#fff" stroke-width="1.3"><path d="M3.4 4.5 H12.6"/><path d="M4.5 4.5 L5 12.5 A1 1 0 0 0 6 13.5 H10 A1 1 0 0 0 11 12.5 L11.5 4.5"/><path d="M6.5 4.5 V3 A.5 .5 0 0 1 7 2.5 H9 A.5 .5 0 0 1 9.5 3 V4.5"/><path d="M6.6 7 V11.2 M9.4 7 V11.2"/></g></svg>
<div class="t" style="left:310.2px;top:709.15px;font-size:14px;color:#293240;font-weight:normal;letter-spacing:0.25px;">Showing 1 to 6 of 6 entries</div>
<div class="a" style="left:1747px;top:696px;width:118px;height:38px;border:1px solid #d7dbe0;border-radius:10px"></div>
<div class="a" style="left:1789px;top:696px;width:35px;height:38px;background:#0caf60"></div>
<svg class="a" style="left:1764px;top:709px;" width="9" height="11" viewBox="0 0 9 11" fill="none" stroke-linecap="round" stroke-linejoin="round"><path d="M7 1 L2.5 5.5 L7 10" stroke="#293240" stroke-width="1.4"/></svg>
<div class="t" style="left:1802.5px;top:709.15px;font-size:14px;color:#fff;font-weight:normal;letter-spacing:0px;">1</div>
<svg class="a" style="left:1840px;top:709px;" width="9" height="11" viewBox="0 0 9 11" fill="none" stroke-linecap="round" stroke-linejoin="round"><path d="M2 1 L6.5 5.5 L2 10" stroke="#293240" stroke-width="1.4"/></svg>
<div class="a" style="left:0px;top:0px;width:1920px;height:1080px;background:rgba(0,0,0,.5)"></div>
<div class="a" style="left:560px;top:28px;width:800px;height:1100px;background:#fff;background-clip:padding-box;border:1px solid rgba(0,0,0,.2);border-radius:16px"></div>
<div class="t" style="left:586.6px;top:54.46px;font-size:16px;color:#000;font-weight:normal;letter-spacing:0.66px;-webkit-text-stroke:0.35px #000;">Create New Availability</div>
<svg class="a" style="left:1319.2px;top:53.8px;" width="16" height="16" viewBox="0 0 16 16" fill="none" stroke-linecap="round" stroke-linejoin="round"><path d="M1.5 1.5 L14.5 14.5 M14.5 1.5 L1.5 14.5" stroke="#7a7a7a" stroke-width="1.9" stroke-linecap="round"/></svg>
<div class="a" style="left:561px;top:93px;width:798px;height:1px;background:#eef0f2"></div>
<div class="t" style="left:581.5px;top:117.85px;font-size:14px;color:#2b3442;font-weight:normal;letter-spacing:0.34px;-webkit-text-stroke:0.35px #2b3442;">Employee</div>
<div class="t" style="left:972.4px;top:117.85px;font-size:14px;color:#2b3442;font-weight:normal;letter-spacing:0.65px;-webkit-text-stroke:0.35px #2b3442;">Name</div>
<div class="a" style="left:581px;top:143px;width:367px;height:41px;border:1px solid #ced4da;border-radius:6px"></div>
<div class="t" style="left:598.5px;top:156.90px;font-size:14px;color:#3a4350;font-weight:normal;letter-spacing:0.25px;">Richard Atkinson</div>
<svg class="a" style="left:920px;top:159.5px;" width="12" height="9" viewBox="0 0 12 9" fill="none" stroke-linecap="round" stroke-linejoin="round"><path d="M1.3 1.5 L5.7 5.9 L10.1 1.5" stroke="#111" stroke-width="1.6"/></svg>
<div class="a" style="left:972px;top:143px;width:367px;height:41px;border:1px solid #ced4da;border-radius:6px;background:#e8f0fe"></div>
<div class="t" style="left:989px;top:157.15px;font-size:14px;color:#000;font-weight:normal;letter-spacing:0.3px;">Armani</div>
<div class="t" style="left:581.5px;top:208.95px;font-size:14px;color:#2b3442;font-weight:normal;letter-spacing:0.5px;-webkit-text-stroke:0.35px #2b3442;">Start Date</div>
<div class="t" style="left:842.4px;top:208.95px;font-size:14px;color:#2b3442;font-weight:normal;letter-spacing:0.5px;-webkit-text-stroke:0.35px #2b3442;">End Date</div>
<div class="t" style="left:1102.8px;top:208.95px;font-size:14px;color:#2b3442;font-weight:normal;letter-spacing:0.2px;-webkit-text-stroke:0.35px #2b3442;">Repeat Every</div>
<div class="a" style="left:581px;top:234px;width:237px;height:42px;border:1px solid #ced4da;border-radius:6px"></div>
<div class="a" style="left:842px;top:234px;width:236px;height:42px;border:1px solid #ced4da;border-radius:6px"></div>
<div class="a" style="left:1102px;top:234px;width:237px;height:42px;border:1px solid #ced4da;border-radius:6px"></div>
<div class="t" style="left:598.5px;top:248.15px;font-size:14px;color:#2b3442;font-weight:normal;letter-spacing:0.35px;">10/28/2024</div>
<div class="t" style="left:859.3px;top:248.15px;font-size:14px;color:#2b3442;font-weight:normal;letter-spacing:0.35px;">10/28/2024</div>
<svg class="a" style="left:786px;top:248px;" width="12" height="13" viewBox="0 0 12 13" fill="none" stroke-linecap="round" stroke-linejoin="round"><g fill="#2a2a2a"><path d="M0.5 2 H11.5 V13 H0.5 Z M2 5 V11.5 H10 V5 Z" fill-rule="evenodd"/><rect x="2.5" y="0" width="1.6" height="2.5"/><rect x="7.9" y="0" width="1.6" height="2.5"/></g></svg>
<svg class="a" style="left:1046px;top:248px;" width="12" height="13" viewBox="0 0 12 13" fill="none" stroke-linecap="round" stroke-linejoin="round"><g fill="#2a2a2a"><path d="M0.5 2 H11.5 V13 H0.5 Z M2 5 V11.5 H10 V5 Z" fill-rule="evenodd"/><rect x="2.5" y="0" width="1.6" height="2.5"/><rect x="7.9" y="0" width="1.6" height="2.5"/></g></svg>
<div class="t" style="left:1119.4px;top:248.15px;font-size:14px;color:#3a4350;font-weight:normal;letter-spacing:0.3px;">Week</div>
<svg class="a" style="left:1311px;top:250.5px;" width="12" height="9" viewBox="0 0 12 9" fill="none" stroke-linecap="round" stroke-linejoin="round"><path d="M1.3 1.5 L5.7 5.9 L10.1 1.5" stroke="#111" stroke-width="1.6"/></svg>
<div class="t" style="left:581px;top:300.15px;font-size:14px;color:#ff3a6e;font-weight:normal;letter-spacing:0.32px;">If you add availabiliti of same date than system will refer last record</div>
<div class="a" style="left:641px;top:357px;width:698px;height:23px;background:#ddd"></div>
<div class="t" style="left:631.50px;width:120px;text-align:center;top:360.10px;font-size:15px;color:#111;font-weight:normal;letter-spacing:0px;">Monday</div>
<div class="t" style="left:732.50px;width:120px;text-align:center;top:360.10px;font-size:15px;color:#111;font-weight:normal;letter-spacing:0px;">Tuesday</div>
<div class="t" style="left:833.50px;width:120px;text-align:center;top:360.10px;font-size:15px;color:#111;font-weight:normal;letter-spacing:0px;">Wednesday</div>
<div class="t" style="left:934.50px;width:120px;text-align:center;top:360.10px;font-size:15px;color:#111;font-weight:normal;letter-spacing:0px;">Thursday</div>
<div class="t" style="left:1035.50px;width:120px;text-align:center;top:360.10px;font-size:15px;color:#111;font-weight:normal;letter-spacing:0px;">Friday</div>
<div class="t" style="left:1136.50px;width:120px;text-align:center;top:360.10px;font-size:15px;color:#111;font-weight:normal;letter-spacing:0px;">Saturday</div>
<div class="t" style="left:1237.50px;width:120px;text-align:center;top:360.10px;font-size:15px;color:#111;font-weight:normal;letter-spacing:0px;">Sunday</div>
<div class="a" style="left:742px;top:357px;width:1px;height:23px;background:#ccc"></div>
<div class="a" style="left:843px;top:357px;width:1px;height:23px;background:#ccc"></div>
<div class="a" style="left:944px;top:357px;width:1px;height:23px;background:#ccc"></div>
<div class="a" style="left:1045px;top:357px;width:1px;height:23px;background:#ccc"></div>
<div class="a" style="left:1146px;top:357px;width:1px;height:23px;background:#ccc"></div>
<div class="a" style="left:1247px;top:357px;width:1px;height:23px;background:#ccc"></div>
<div class="a" style="left:641px;top:397px;width:678px;height:1px;background:#c9c9c9"></div>
<div class="a" style="left:641px;top:417px;width:678px;height:1px;background:#ececec"></div>
<div class="a" style="left:641px;top:437px;width:678px;height:1px;background:#c9c9c9"></div>
<div class="a" style="left:641px;top:457px;width:678px;height:1px;background:#ececec"></div>
<div class="a" style="left:641px;top:477px;width:678px;height:1px;background:#c9c9c9"></div>
<div class="a" style="left:641px;top:497px;width:678px;height:1px;background:#ececec"></div>
<div class="a" style="left:641px;top:517px;width:678px;height:1px;background:#c9c9c9"></div>
<div class="a" style="left:641px;top:537px;width:678px;height:1px;background:#ececec"></div>
<div class="a" style="left:641px;top:557px;width:678px;height:1px;background:#c9c9c9"></div>
<div class="a" style="left:641px;top:577px;width:678px;height:1px;background:#ececec"></div>
<div class="a" style="left:641px;top:597px;width:678px;height:1px;background:#c9c9c9"></div>
<div class="a" style="left:641px;top:617px;width:678px;height:1px;background:#ececec"></div>
<div class="a" style="left:641px;top:637px;width:678px;height:1px;background:#c9c9c9"></div>
<div class="a" style="left:641px;top:657px;width:678px;height:1px;background:#ececec"></div>
<div class="a" style="left:641px;top:677px;width:678px;height:1px;background:#c9c9c9"></div>
<div class="a" style="left:641px;top:697px;width:678px;height:1px;background:#ececec"></div>
<div class="a" style="left:641px;top:717px;width:678px;height:1px;background:#c9c9c9"></div>
<div class="a" style="left:641px;top:737px;width:678px;height:1px;background:#ececec"></div>
<div class="a" style="left:641px;top:757px;width:678px;height:1px;background:#c9c9c9"></div>
<div class="a" style="left:641px;top:777px;width:678px;height:1px;background:#ececec"></div>
<div class="a" style="left:641px;top:797px;width:678px;height:1px;background:#c9c9c9"></div>
<div class="a" style="left:641px;top:817px;width:678px;height:1px;background:#ececec"></div>
<div class="a" style="left:641px;top:837px;width:678px;height:1px;background:#c9c9c9"></div>
<div class="a" style="left:641px;top:857px;width:678px;height:1px;background:#ececec"></div>
<div class="a" style="left:641px;top:877px;width:678px;height:1px;background:#c9c9c9"></div>
<div class="a" style="left:641px;top:897px;width:678px;height:1px;background:#ececec"></div>
<div class="a" style="left:641px;top:917px;width:678px;height:1px;background:#c9c9c9"></div>
<div class="a" style="left:641px;top:937px;width:678px;height:1px;background:#ececec"></div>
<div class="a" style="left:641px;top:957px;width:678px;height:1px;background:#c9c9c9"></div>
<div class="a" style="left:641px;top:977px;width:678px;height:1px;background:#ececec"></div>
<div class="a" style="left:641px;top:997px;width:678px;height:1px;background:#c9c9c9"></div>
<div class="a" style="left:641px;top:1017px;width:678px;height:1px;background:#ececec"></div>
<div class="a" style="left:641px;top:1037px;width:678px;height:1px;background:#c9c9c9"></div>
<div class="a" style="left:641px;top:1057px;width:678px;height:1px;background:#ececec"></div>
<div class="a" style="left:641px;top:1077px;width:678px;height:1px;background:#c9c9c9"></div>
<div class="a" style="left:641px;top:380px;width:1px;height:720px;background:#cfcfcf"></div>
<div class="a" style="left:742px;top:380px;width:1px;height:720px;background:#cfcfcf"></div>
<div class="a" style="left:843px;top:380px;width:1px;height:720px;background:#cfcfcf"></div>
<div class="a" style="left:944px;top:380px;width:1px;height:720px;background:#cfcfcf"></div>
<div class="a" style="left:1045px;top:380px;width:1px;height:720px;background:#cfcfcf"></div>
<div class="a" style="left:1146px;top:380px;width:1px;height:720px;background:#cfcfcf"></div>
<div class="a" style="left:1247px;top:380px;width:1px;height:720px;background:#cfcfcf"></div>
<div class="t" style="left:573.00px;width:60px;text-align:right;top:393.84px;font-size:12px;color:#373d45;font-weight:normal;letter-spacing:0px;">00:00</div>
<div class="t" style="left:573.00px;width:60px;text-align:right;top:433.84px;font-size:12px;color:#373d45;font-weight:normal;letter-spacing:0px;">01:00</div>
<div class="t" style="left:573.00px;width:60px;text-align:right;top:473.84px;font-size:12px;color:#373d45;font-weight:normal;letter-spacing:0px;">02:00</div>
<div class="t" style="left:573.00px;width:60px;text-align:right;top:513.84px;font-size:12px;color:#373d45;font-weight:normal;letter-spacing:0px;">03:00</div>
<div class="t" style="left:573.00px;width:60px;text-align:right;top:553.84px;font-size:12px;color:#373d45;font-weight:normal;letter-spacing:0px;">04:00</div>
<div class="t" style="left:573.00px;width:60px;text-align:right;top:593.84px;font-size:12px;color:#373d45;font-weight:normal;letter-spacing:0px;">05:00</div>
<div class="t" style="left:573.00px;width:60px;text-align:right;top:633.84px;font-size:12px;color:#373d45;font-weight:normal;letter-spacing:0px;">06:00</div>
<div class="t" style="left:573.00px;width:60px;text-align:right;top:673.84px;font-size:12px;color:#373d45;font-weight:normal;letter-spacing:0px;">07:00</div>
<div class="t" style="left:573.00px;width:60px;text-align:right;top:713.84px;font-size:12px;color:#373d45;font-weight:normal;letter-spacing:0px;">08:00</div>
<div class="t" style="left:573.00px;width:60px;text-align:right;top:753.84px;font-size:12px;color:#373d45;font-weight:normal;letter-spacing:0px;">09:00</div>
<div class="t" style="left:573.00px;width:60px;text-align:right;top:793.84px;font-size:12px;color:#373d45;font-weight:normal;letter-spacing:0px;">10:00</div>
<div class="t" style="left:573.00px;width:60px;text-align:right;top:833.84px;font-size:12px;color:#373d45;font-weight:normal;letter-spacing:0px;">11:00</div>
<div class="t" style="left:573.00px;width:60px;text-align:right;top:873.84px;font-size:12px;color:#373d45;font-weight:normal;letter-spacing:0px;">12:00</div>
<div class="t" style="left:573.00px;width:60px;text-align:right;top:913.84px;font-size:12px;color:#373d45;font-weight:normal;letter-spacing:0px;">13:00</div>
<div class="t" style="left:573.00px;width:60px;text-align:right;top:953.84px;font-size:12px;color:#373d45;font-weight:normal;letter-spacing:0px;">14:00</div>
<div class="t" style="left:573.00px;width:60px;text-align:right;top:993.84px;font-size:12px;color:#373d45;font-weight:normal;letter-spacing:0px;">15:00</div>
<div class="t" style="left:573.00px;width:60px;text-align:right;top:1033.84px;font-size:12px;color:#373d45;font-weight:normal;letter-spacing:0px;">16:00</div>
<div class="t" style="left:573.00px;width:60px;text-align:right;top:1073.84px;font-size:12px;color:#373d45;font-weight:normal;letter-spacing:0px;">17:00</div>
<div class="a" style="left:947px;top:522px;width:96px;height:16px;background:#7ee07f;border-radius:3px"></div>
<div class="t" style="left:950.5px;top:525.83px;font-size:10px;color:#1e1e1e;font-weight:bold;letter-spacing:0px;">03:30 - 04:00</div>
<div class="a" style="left:846px;top:582px;width:96px;height:16px;background:#7ee07f;border-radius:3px"></div>
<div class="t" style="left:849.5px;top:585.83px;font-size:10px;color:#1e1e1e;font-weight:bold;letter-spacing:0px;">05:00 - 05:30</div>
<div class="a" style="left:1048px;top:1062px;width:96px;height:16px;background:#7ee07f;border-radius:3px"></div>
<div class="t" style="left:1051.5px;top:1065.84px;font-size:10px;color:#1e1e1e;font-weight:bold;letter-spacing:0px;">17:00 - 17:30</div>
<div class="a" style="left:635px;top:500px;width:187px;height:91px;background:#fff;border:1px solid #c8c8c8;box-shadow:1px 2px 4px rgba(0,0,0,.18)"></div>
<div class="t" style="left:652.3px;top:521.03px;font-size:10px;color:#000;font-weight:bold;letter-spacing:0px;">03:30 - 04:00</div>
<svg class="a" style="left:781px;top:518px;" width="18" height="18" viewBox="0 0 18 18" fill="none" stroke-linecap="round" stroke-linejoin="round"><path d="M2 2 L16 16 M16 2 L2 16" stroke="#000" stroke-width="1.9" stroke-linecap="butt"/></svg>
<div class="a" style="left:652px;top:549px;width:66px;height:25px;background:#7ee07f;border:1px solid #00f000;border-radius:3px"></div>
<div class="t" style="left:659.1px;top:555.69px;font-size:11px;color:#151515;font-weight:normal;letter-spacing:0px;">Availability</div>
<div class="a" style="left:722px;top:549px;width:79px;height:25px;background:#e57d7d;border:1px solid #f00;border-radius:3px"></div>
<div class="t" style="left:728.9px;top:555.69px;font-size:11px;color:#151515;font-weight:normal;letter-spacing:0px;">Unavailability</div>
</body></html>
